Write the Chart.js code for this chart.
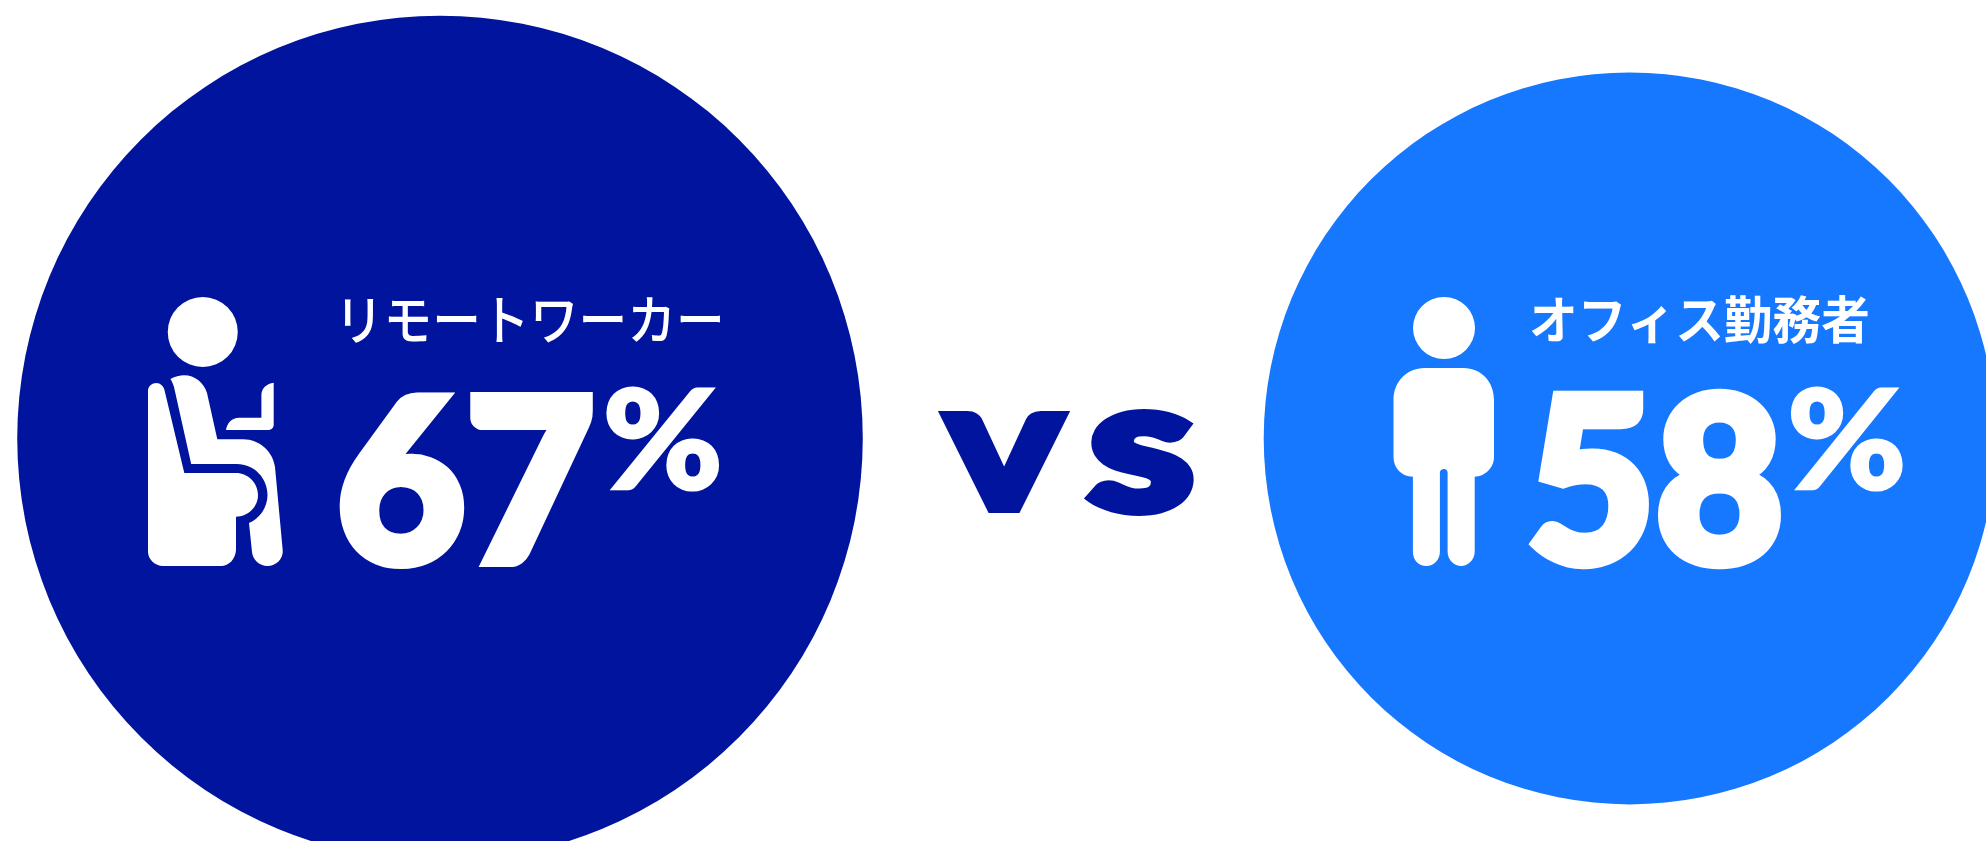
<!DOCTYPE html>
<html lang="ja">
<head>
<meta charset="utf-8">
<title>リモートワーカー vs オフィス勤務者</title>
<script src="https://cdn.jsdelivr.net/npm/chart.js@4/dist/chart.umd.min.js"></script>
<style>
  html, body { margin: 0; background: #fff; overflow: hidden; }
  canvas { display: block; }
</style>
</head>
<body>
<canvas id="compare" width="1986" height="841"></canvas>
<script>
// data
const groups = ['リモートワーカー', 'オフィス勤務者'];
const shares = [67, 58];
const colors = ['#00149e', '#1677ff'];
const middleLabel = 'VS';

const PX_PER_POINT = 6.31; // bubble radius per percentage point
const WHITE = '#fff';
const NUM_FONT = '900 240px Lato';

// icons, drawn from the top left corner of their own box
const seatedIcon = {
  dx: -292, dy: -141.4,
  head: [54.75, 35, 35],
  paths: [
    'M0 94 C0 89 4 86 8.5 86 C12 86 16 89 16.7 94 L36.3 176 H88 C100 176 110 186 110 198 C110 210 100 219.7 88 219.7 V253 C87.5 262 81 269 73 269 H15 C7 269 0 262 0 255 Z',
    'M22.4 82 C27 79.5 32 78.3 36 78.3 C47 78.3 56 86 59 96 L69.3 142.3 H95 C112 142.3 125 155 127 170 L134.7 253 C135.5 262 128 269 119.5 269 C111 269 104.5 262 104 255 L101 226 C111 222 119.5 211 119.5 198 C119.5 181 106 167 89 167 H43.2 L26 90 C25 87 24 84 22.4 82 Z',
    'M125.7 85.7 C119 86.5 113.4 91 113.4 98 V120.7 H91 C84 120.7 79 126 78 133 H119.5 C123 133 125.7 131 125.7 128 Z'
  ]
};
const standingIcon = {
  dx: -236.2, dy: -141.4,
  head: [50.5, 31, 31],
  paths: [
    'M31 71 H70 C88 71 100.5 85 100.5 103 V160 C100.5 171 91 179.7 81.2 179.7 V254.7 C81.2 263 74 269 67.7 269 C61 269 54.1 263 54.1 254.7 V176 C54.1 173 52.5 172 50.5 172 C48.5 172 46.4 173 46.4 176 V254.7 C46.4 263 40 269 33 269 C25 269 19.4 263 19.4 254.7 V179.7 C8 179.7 0 171 0 160 V103 C0 85 13 71 31 71 Z'
  ]
};

// text boxes relative to each bubble centre: [left, top, right, bottom]
const textBoxes = [
  { label: [-95, -142.4, 280.6, -95.4], label_weight: 500, num: [-101, -47.4, 153, 130.3], pct: [166, -51.4, 279, 53.6] },
  { label: [-98.7, -144.4, 238.3, -93.4], label_weight: 700, num: [-99.7, -50.4, 151.3, 130.3], pct: [160.8, -51.4, 272.9, 53.6] }
];
const middleBoxes = [[502, -27, 626, 74.6], [648, -29, 752, 77.6]];
const icons = [seatedIcon, standingIcon];

// stretch a string so its ink fills the given box, thickened by an outline of `bold` px
function fitText(ctx, text, font, cx, cy, box, color, bold = 0) {
  ctx.font = font;
  ctx.textAlign = 'left';
  ctx.textBaseline = 'alphabetic';
  const m = ctx.measureText(text);
  const sx = (box[2] - box[0] - bold) / (m.actualBoundingBoxLeft + m.actualBoundingBoxRight);
  const sy = (box[3] - box[1] - bold) / (m.actualBoundingBoxAscent + m.actualBoundingBoxDescent);
  ctx.save();
  ctx.translate(cx + box[0] + bold / 2 + m.actualBoundingBoxLeft * sx, cy + box[1] + bold / 2 + m.actualBoundingBoxAscent * sy);
  ctx.scale(sx, sy);
  ctx.fillStyle = color;
  ctx.fillText(text, 0, 0);
  if (bold) {
    ctx.strokeStyle = color;
    ctx.lineJoin = 'miter';
    ctx.miterLimit = 3;
    ctx.lineWidth = bold / Math.min(sx, sy);
    ctx.strokeText(text, 0, 0);
  }
  ctx.restore();
}

function drawIcon(ctx, icon, cx, cy) {
  ctx.save();
  ctx.translate(cx + icon.dx, cy + icon.dy);
  ctx.fillStyle = WHITE;
  ctx.beginPath();
  ctx.arc(icon.head[0], icon.head[1], icon.head[2], 0, Math.PI * 2);
  ctx.fill();
  icon.paths.forEach(p => ctx.fill(new Path2D(p)));
  ctx.restore();
}

// icons and labels sit on top of the bubbles
const bubbleContent = {
  id: 'bubbleContent',
  afterDatasetsDraw(chart) {
    const ctx = chart.ctx;
    const pts = chart.getDatasetMeta(0).data;
    pts.forEach((pt, i) => {
      const box = textBoxes[i];
      drawIcon(ctx, icons[i], pt.x, pt.y);
      fitText(ctx, groups[i], box.label_weight + ' 48px "Noto Sans CJK JP"', pt.x, pt.y, box.label, WHITE);
      fitText(ctx, String(shares[i]), NUM_FONT, pt.x, pt.y, box.num, WHITE, 10);
      fitText(ctx, '%', NUM_FONT, pt.x, pt.y, box.pct, WHITE, 3);
    });
    // the two letters are set apart, each in its own box
    [...middleLabel].forEach((ch, i) => {
      fitText(ctx, ch, '900 130px Lato', pts[0].x, pts[0].y, middleBoxes[i], colors[0], 12);
    });
  }
};

new Chart(document.getElementById('compare'), {
  type: 'bubble',
  data: {
    labels: groups,
    datasets: [{
      data: groups.map((g, i) => ({ x: g, y: 0, r: shares[i] * PX_PER_POINT })),
      backgroundColor: colors,
      borderWidth: 0,
      hoverRadius: 0,
      clip: false
    }]
  },
  options: {
    responsive: false,
    animation: false,
    layout: { autoPadding: false, padding: { left: 440, right: 356.3, top: 35.8, bottom: 0 } },
    plugins: { legend: { display: false }, tooltip: { enabled: false } },
    scales: {
      x: { type: 'category', labels: groups, offset: false, display: false },
      y: { min: -1, max: 1, display: false }
    }
  },
  plugins: [bubbleContent]
});
</script>
</body>
</html>
